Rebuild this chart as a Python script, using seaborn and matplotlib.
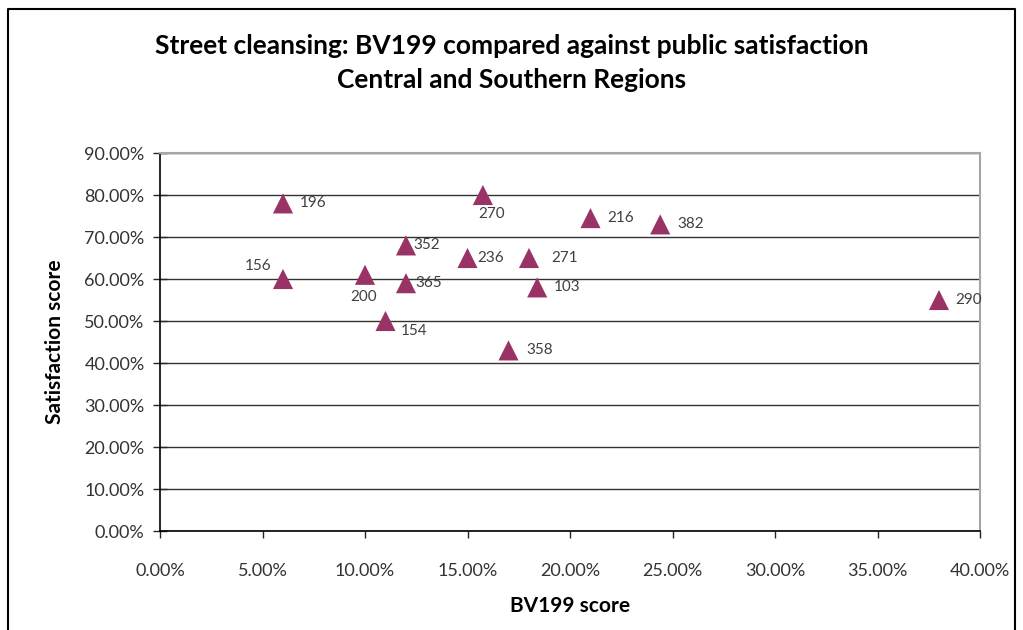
import matplotlib
matplotlib.use("Agg")
import matplotlib.pyplot as plt
import matplotlib.ticker as mticker
import pandas as pd
import seaborn as sns

# authority codes and their scores (percent)
codes = ['196', '156', '200', '352', '365', '154', '236', '270', '358', '271', '103', '216', '382', '290']
bv199 = [6.0, 6.0, 10.0, 12.0, 12.0, 11.0, 15.0, 15.75, 17.0, 18.0, 18.4, 21.0, 24.4, 38.0]
satisfaction = [78.0, 60.0, 61.0, 68.0, 59.0, 50.0, 65.0, 80.0, 43.0, 65.0, 58.0, 74.5, 73.0, 55.0]

# label placement (offset in points, alignment) for each code
label_pos = {
    '196': (12, 0, 'left'), '156': (-8, 9, 'right'), '200': (-1, -16, 'center'),
    '352': (5, 0, 'left'), '365': (7, 0, 'left'), '154': (11, -7, 'left'),
    '236': (7, 0, 'left'), '270': (6, -14, 'center'), '358': (13, 0, 'left'),
    '271': (16, 0, 'left'), '103': (12, 0, 'left'), '216': (12, 0, 'left'),
    '382': (12, 0, 'left'), '290': (12, 0, 'left'),
}

df = pd.DataFrame({'code': codes, 'BV199': bv199, 'Satisfaction': satisfaction})

sns.set_style("white")
plt.rcParams['font.family'] = ['Lato', 'DejaVu Sans']

fig = plt.figure(figsize=(10.23, 6.3), dpi=100)
ax = fig.add_axes([160 / 1023, 1 - 531 / 630, 820 / 1023, 378 / 630])

sns.scatterplot(data=df, x='BV199', y='Satisfaction', marker='^', s=210,
                color='#993366', edgecolor='none', ax=ax, zorder=3)

for _, row in df.iterrows():
    dx, dy, ha = label_pos[row['code']]
    ax.annotate(row['code'], (row['BV199'], row['Satisfaction']), xytext=(dx, dy),
                textcoords='offset points', ha=ha, va='center', fontsize=11,
                color='#404040')

ax.set_xlim(0, 40)
ax.set_ylim(0, 90)
ax.set_xticks(range(0, 41, 5))
ax.set_yticks(range(0, 91, 10))
ax.xaxis.set_major_formatter(mticker.FuncFormatter(lambda v, p: f'{v:.2f}%'))
ax.yaxis.set_major_formatter(mticker.FuncFormatter(lambda v, p: f'{v:.2f}%'))
ax.yaxis.grid(True, color='#333333', linewidth=1.0)
ax.set_axisbelow(True)

for side in ['left', 'bottom']:
    ax.spines[side].set_color('black')
    ax.spines[side].set_linewidth(1.2)
for side in ['top', 'right']:
    ax.spines[side].set_color('#a6a6a6')
    ax.spines[side].set_linewidth(1.5)

ax.tick_params(axis='y', direction='inout', length=10, width=1, pad=6,
               labelsize=13, labelcolor='#333333', left=True)
ax.tick_params(axis='x', direction='out', length=5, width=1, pad=18,
               labelsize=13, labelcolor='#333333', bottom=True)

ax.set_xlabel('BV199 score', fontsize=15, fontweight='bold', labelpad=12, color='black')
ax.set_ylabel('Satisfaction score', fontsize=15, fontweight='bold', labelpad=14, color='black')

fig.text(0.5, 1 - 46 / 630, 'Street cleansing: BV199 compared against public satisfaction',
         ha='center', va='center', fontsize=19, fontweight='bold', color='black')
fig.text(0.5, 1 - 80 / 630, 'Central and Southern Regions',
         ha='center', va='center', fontsize=19, fontweight='bold', color='black')

# outer chart frame (bottom edge falls off the image)
fx0, fx1, fy1 = 8 / 1023, 1015 / 1023, 1 - 9 / 630
fig.add_artist(plt.Line2D([fx0, fx0, fx1, fx1], [0, fy1, fy1, 0],
                          transform=fig.transFigure, color='black', linewidth=1.5))

fig.savefig('out.png', dpi=100)
